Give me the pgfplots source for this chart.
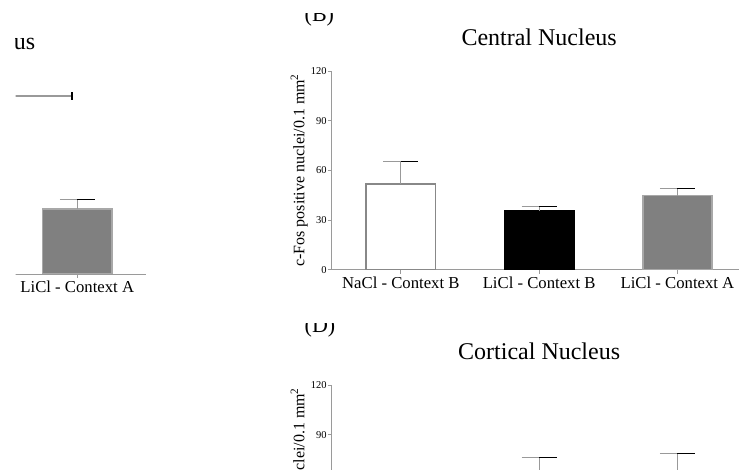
\documentclass[border=0pt]{standalone}
\usepackage{pgfplots}
\pgfplotsset{compat=1.18}
\usepackage{fontspec}
\setmainfont{Liberation Serif}
\definecolor{axgray}{HTML}{9A9A9A}
\definecolor{barout}{HTML}{888888}
\definecolor{barfill}{HTML}{808080}
\definecolor{baroutl}{HTML}{A8A8A8}
\definecolor{errgray}{HTML}{999999}
\pgfplotsset{
  panel/.style={
    scale only axis, width=414.9pt, height=198.7pt,
    xmin=0.5, xmax=3.5, ymin=0, ymax=120,
    axis x line*=bottom, axis y line*=left,
    axis line style={axgray, line width=0.9pt},
    tick style={axgray, line width=0.9pt},
    major tick length=4pt, tick align=outside,
    xtick={1,2,3}, ytick={0,30,60,90,120},
    xticklabels={NaCl - Context B, LiCl - Context B, LiCl - Context A},
    /pgf/number format/assume math mode=true,
    xticklabel style={font=\fontsize{16.7}{20}\selectfont, anchor=base, yshift=-15pt},
    yticklabel style={font=\fontsize{10.5}{12}\selectfont, inner sep=1pt},
    title style={at={(0.5,1)}, anchor=base, yshift=19.3pt, font=\fontsize{24}{28}\selectfont},
    ylabel={c-Fos positive nuclei/0.1 mm\textsuperscript{2}},
    ylabel style={at={(axis description cs:-0.066,0.5)}, anchor=base, font=\fontsize{16}{19}\selectfont},
  },
  bb/.style={ybar, bar width=0.5, bar shift=0pt},
}
\begin{document}
\begin{tikzpicture}[x=1pt,y=1pt]
\begin{scope}
\clip (0pt,0pt) rectangle (739pt,470pt);

% Panel A (cropped)
\begin{scope}
\clip (15.5pt,0pt) rectangle (250pt,470pt);
\begin{axis}[panel, at={(-268.5pt,196pt)}, anchor=south west, title={Basolateral Nucleus}]
  \addplot[bb, fill=white, draw=barout, line width=1.6pt] coordinates {(1,52)};
  \addplot[bb, fill=black, draw=black, line width=1.6pt] coordinates {(2,34)};
  \addplot[bb, fill=barfill, draw=baroutl, line width=1.6pt] coordinates {(3,39.1)};
  \addplot[errgray, line width=1.1pt] coordinates {(3,39.1) (3,45.1)};
  \addplot[errgray, line width=1.1pt] coordinates {(2.8735,45.1) (3,45.1)};
  \addplot[black, line width=1.1pt] coordinates {(3,45.1) (3.1265,45.1)};
  \addplot[errgray, line width=1.8pt] coordinates {(1,107.7) (2.962,107.7)};
  \addplot[black, line width=1.6pt] coordinates {(2.962,105.1) (2.962,110.2)};
\end{axis}
\end{scope}

% Panel B
\begin{scope}
\clip (290pt,0pt) rectangle (360pt,456.7pt);
\node[anchor=base west, inner sep=0pt, font=\fontsize{22}{26}\selectfont] at (304.5pt,448.9pt) {(B)};
\end{scope}
\begin{axis}[panel, at={(331.7pt,200.3pt)}, anchor=south west, title={Central Nucleus}]
  \addplot[bb, fill=white, draw=barout, line width=1.6pt] coordinates {(1,51.6)};
  \addplot[bb, fill=black, draw=black, line width=1.6pt] coordinates {(2,35.3)};
  \addplot[bb, fill=barfill, draw=baroutl, line width=1.6pt] coordinates {(3,44.7)};
  \addplot[errgray, line width=1.1pt] coordinates {(1,51.6) (1,65.5)};
  \addplot[errgray, line width=1.1pt] coordinates {(0.8735,65.5) (1,65.5)};
  \addplot[black, line width=1.1pt] coordinates {(1,65.5) (1.1265,65.5)};
  \addplot[errgray, line width=1.1pt] coordinates {(2,35.3) (2,38.0)};
  \addplot[errgray, line width=1.1pt] coordinates {(1.8735,38.0) (2,38.0)};
  \addplot[black, line width=1.1pt] coordinates {(2,38.0) (2.1265,38.0)};
  \addplot[errgray, line width=1.1pt] coordinates {(3,44.7) (3,48.9)};
  \addplot[errgray, line width=1.1pt] coordinates {(2.8735,48.9) (3,48.9)};
  \addplot[black, line width=1.1pt] coordinates {(3,48.9) (3.1265,48.9)};
\end{axis}

% Panel D
\begin{scope}
\clip (290pt,120pt) rectangle (360pt,146.7pt);
\node[anchor=base west, inner sep=0pt, font=\fontsize{22}{26}\selectfont] at (304.5pt,137.2pt) {(D)};
\end{scope}
\begin{axis}[panel, at={(331.7pt,-113.7pt)}, anchor=south west, title={Cortical Nucleus}]
  \addplot[bb, fill=white, draw=barout, line width=1.6pt] coordinates {(1,45)};
  \addplot[bb, fill=black, draw=black, line width=1.6pt] coordinates {(2,62)};
  \addplot[bb, fill=barfill, draw=baroutl, line width=1.6pt] coordinates {(3,64)};
  \addplot[errgray, line width=1.1pt] coordinates {(2,62) (2,76.1)};
  \addplot[errgray, line width=1.1pt] coordinates {(1.8735,76.1) (2,76.1)};
  \addplot[black, line width=1.1pt] coordinates {(2,76.1) (2.1265,76.1)};
  \addplot[errgray, line width=1.1pt] coordinates {(3,64) (3,78.7)};
  \addplot[errgray, line width=1.1pt] coordinates {(2.8735,78.7) (3,78.7)};
  \addplot[black, line width=1.1pt] coordinates {(3,78.7) (3.1265,78.7)};
\end{axis}
\end{scope}

\pgfresetboundingbox
\path[use as bounding box] (0pt,0pt) rectangle (739pt,470pt);
\end{tikzpicture}
\end{document}
